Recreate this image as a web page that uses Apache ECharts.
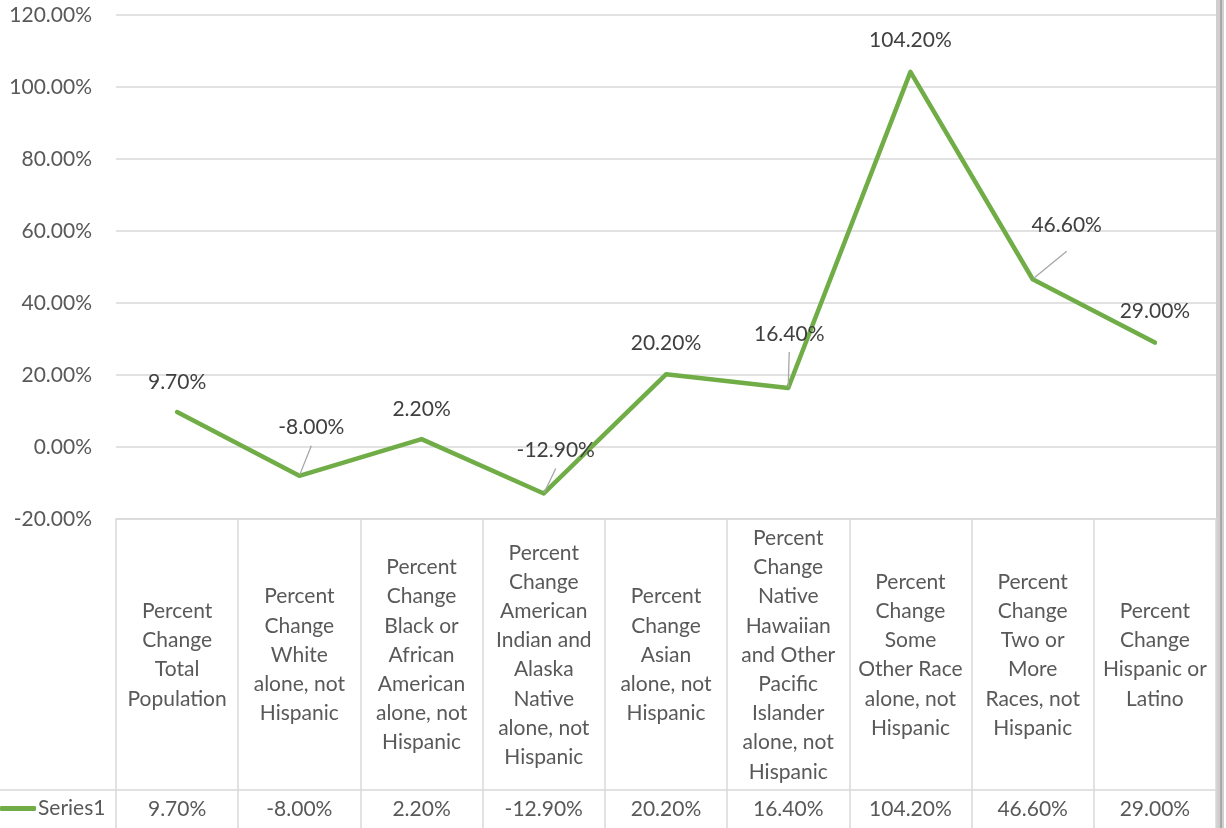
<!DOCTYPE html>
<html>
<head>
<meta charset="utf-8">
<script src="https://cdn.jsdelivr.net/npm/echarts@6/dist/echarts.min.js"></script>
<style>
  html, body { margin: 0; padding: 0; background: #fff; }
  #chart { width: 1226px; height: 828px; }
</style>
</head>
<body>
<div id="chart"></div>
<script>
// categories as wrapped in the data table header
const categories = [
  'Percent\nChange\nTotal\nPopulation',
  'Percent\nChange\nWhite\nalone, not\nHispanic',
  'Percent\nChange\nBlack or\nAfrican\nAmerican\nalone, not\nHispanic',
  'Percent\nChange\nAmerican\nIndian and\nAlaska\nNative\nalone, not\nHispanic',
  'Percent\nChange\nAsian\nalone, not\nHispanic',
  'Percent\nChange\nNative\nHawaiian\nand Other\nPacific\nIslander\nalone, not\nHispanic',
  'Percent\nChange\nSome\nOther Race\nalone, not\nHispanic',
  'Percent\nChange\nTwo or\nMore\nRaces, not\nHispanic',
  'Percent\nChange\nHispanic or\nLatino'
];
const series1 = [9.7, -8.0, 2.2, -12.9, 20.2, 16.4, 104.2, 46.6, 29.0];
const seriesName = 'Series1';
const yMin = -20, yMax = 120, yStep = 20;

// label nudges (px), gap under text for leader labels, and which labels get a leader line
const labelShift = [[0, -30], [12, -49], [0, -30], [12, -43], [0, -31], [1, -54], [0, -32], [34, -54], [0, -31]];
const labelGap = [0, 7, 0, 6, 0, 6, 0, 14, 0];
const hasLeader = [false, true, false, true, false, true, false, true, false];

const pct = v => v.toFixed(2) + '%';
const font = 'Lato';
const textGrey = '#595959';
const lineGrey = '#d9d9d9';
const green = '#70ad47';

let myChart = echarts.init(document.getElementById('chart'));
myChart.setOption({
  animation: false,
  textStyle: { fontFamily: font },
  color: [green],
  grid: { left: 116, right: 10, top: 15, bottom: 309, containLabel: false },
  legend: {
    left: 0,
    top: 798,
    padding: 0,
    icon: 'roundRect',
    itemWidth: 36,
    itemHeight: 5,
    textStyle: { fontFamily: font, fontSize: 21, color: textGrey, padding: [0, 0, 0, -3] },
    data: [seriesName]
  },
  xAxis: [
    {
      type: 'category',
      data: categories,
      boundaryGap: true,
      axisLine: { onZero: false, lineStyle: { color: lineGrey, width: 1.5 } },
      axisTick: { show: false },
      axisLabel: {
        interval: 0,
        margin: 136,
        verticalAlign: 'middle',
        lineHeight: 29.2,
        fontSize: 21,
        color: textGrey,
        fontFamily: font
      }
    },
    {
      type: 'category',
      position: 'bottom',
      data: series1.map(pct),
      boundaryGap: true,
      axisLine: { show: false, onZero: false },
      axisTick: { show: true, interval: 0, length: 309, lineStyle: { color: lineGrey, width: 1.5 } },
      axisLabel: {
        interval: 0,
        margin: 290,
        verticalAlign: 'middle',
        fontSize: 21,
        color: textGrey,
        fontFamily: font
      }
    }
  ],
  yAxis: {
    type: 'value',
    min: yMin,
    max: yMax,
    interval: yStep,
    axisLine: { show: false },
    axisTick: { show: false },
    splitLine: { lineStyle: { color: lineGrey, width: 1.5 } },
    axisLabel: {
      margin: 24,
      fontSize: 21,
      color: textGrey,
      fontFamily: font,
      formatter: v => pct(v)
    }
  },
  graphic: [
    { type: 'line', shape: { x1: 0, y1: 790, x2: 1216, y2: 790 }, style: { stroke: lineGrey, lineWidth: 1.5 }, silent: true },
    { type: 'rect', shape: { x: 1216, y: 0, width: 8, height: 828 }, style: { fill: '#cfcfcf' }, silent: true },
    { type: 'line', shape: { x1: 1221, y1: 0, x2: 1221, y2: 828 }, style: { stroke: '#a8a8a8', lineWidth: 2 }, silent: true }
  ],
  series: [
    {
      name: seriesName,
      type: 'line',
      xAxisIndex: 0,
      data: series1.map((v, i) => ({ value: v, labelLine: { show: hasLeader[i] } })),
      symbol: 'circle',
      symbolSize: 2,
      showSymbol: true,
      itemStyle: { color: green },
      lineStyle: { color: green, width: 4.5, join: 'round', cap: 'round' },
      label: {
        show: true,
        position: 'inside',
        fontSize: 21,
        color: '#404040',
        fontFamily: font,
        formatter: p => {
          const g = labelGap[p.dataIndex];
          return g ? '{v|' + pct(p.value) + '}\n{g' + g + '| }' : '{v|' + pct(p.value) + '}';
        },
        rich: {
          v: { fontSize: 21, color: '#404040', fontFamily: font, lineHeight: 24 },
          g6: { fontSize: 1, lineHeight: 6, height: 6 },
          g7: { fontSize: 1, lineHeight: 7, height: 7 },
          g14: { fontSize: 1, lineHeight: 14, height: 14 }
        }
      },
      labelLine: { length2: 0, lineStyle: { color: '#a6a6a6', width: 1.3 } },
      labelLayout: p => ({
        dx: labelShift[p.dataIndex][0],
        dy: labelShift[p.dataIndex][1] + labelGap[p.dataIndex] / 2
      })
    }
  ]
});
</script>
</body>
</html>
